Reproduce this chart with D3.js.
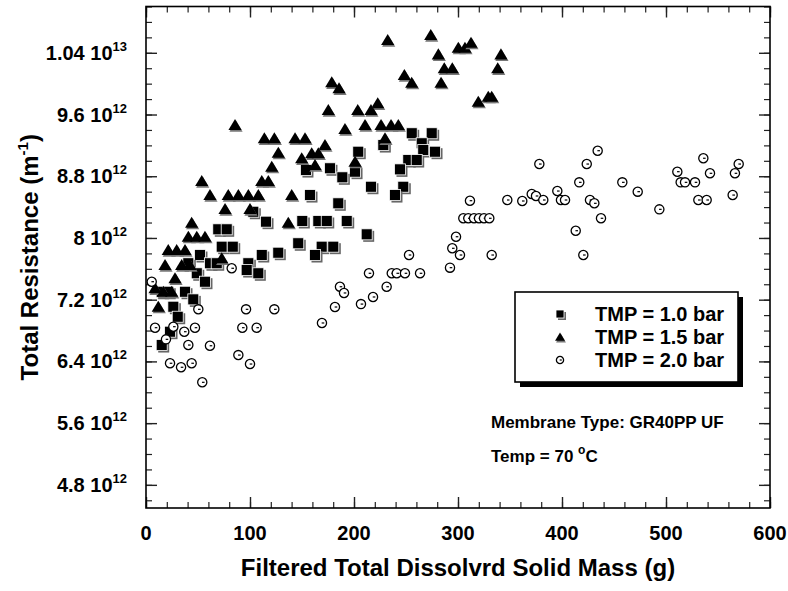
<!DOCTYPE html>
<html>
<head>
<meta charset="utf-8">
<script src="https://cdn.jsdelivr.net/npm/d3@7"></script>
<style>
  body { margin: 0; background: #fff; }
  svg { font-family: 'Liberation Sans', Arial, Helvetica, sans-serif; font-weight: bold; }
</style>
</head>
<body>
<svg id="chart" width="788" height="591"></svg>
<script>
// resistance values are in units of 1e12 m^-1, mass in g
const tmp10 = [
  [103.2, 8.340], [115.4, 8.211], [150.3, 8.220], [69.5, 8.112], [77.6, 8.112],
  [72.8, 7.887], [83.4, 7.887], [146.4, 7.931], [51.9, 7.779], [111.3, 7.779],
  [127.2, 7.809], [40.7, 7.672], [61.5, 7.672], [68.0, 7.672], [98.4, 7.672],
  [48.8, 7.542], [96.8, 7.584], [108.0, 7.542], [56.7, 7.433], [15.1, 7.303],
  [21.4, 7.303], [37.5, 7.303], [45.5, 7.204], [26.3, 7.109], [30.5, 6.979],
  [23.1, 6.785], [15.1, 6.612], [204.1, 9.118], [228.2, 9.204], [255.5, 9.357],
  [274.7, 9.357], [265.1, 9.227], [266.6, 9.140], [277.9, 9.118], [252.2, 9.010],
  [260.3, 9.010], [244.2, 8.889], [176.9, 8.903], [201.0, 8.859], [188.8, 8.786],
  [216.3, 8.664], [247.4, 8.664], [239.4, 8.556], [157.7, 8.556], [184.9, 8.449],
  [165.7, 8.220], [173.8, 8.220], [193.0, 8.220], [212.2, 8.047], [168.9, 7.887],
  [180.1, 7.887], [162.5, 7.779], [153.8, 8.880]
]

const tmp15 = [
  [232.4, 10.565], [273.8, 10.630], [300.3, 10.466], [306.7, 10.466], [312.5, 10.531],
  [341.3, 10.380], [281.1, 10.380], [286.8, 10.199], [294.5, 10.199], [338.2, 10.199],
  [248.4, 10.112], [255.5, 10.013], [283.7, 10.013], [178.6, 10.018], [185.6, 9.940],
  [319.5, 9.766], [329.1, 9.831], [332.4, 9.831], [222.8, 9.746], [175.3, 9.658],
  [203.6, 9.658], [216.3, 9.658], [191.3, 9.412], [210.6, 9.464], [226.0, 9.464],
  [235.6, 9.464], [242.6, 9.464], [143.3, 9.292], [152.9, 9.292], [172.1, 9.204],
  [229.8, 9.292], [85.6, 9.464], [113.8, 9.292], [123.4, 9.292], [127.2, 9.105],
  [120.9, 8.924], [159.3, 9.098], [165.7, 9.098], [149.7, 9.033], [162.5, 8.945],
  [201.0, 8.988], [53.6, 8.738], [111.3, 8.738], [117.6, 8.738], [61.5, 8.556],
  [79.1, 8.556], [88.8, 8.556], [98.4, 8.556], [108.0, 8.556], [140.1, 8.556],
  [76.0, 8.375], [100.0, 8.375], [43.9, 8.198], [136.8, 8.198], [40.7, 8.016],
  [48.8, 8.016], [56.7, 8.016], [21.4, 7.843], [29.5, 7.843], [37.5, 7.843],
  [18.3, 7.649], [34.3, 7.649], [42.3, 7.649], [72.8, 7.737], [27.9, 7.477],
  [8.7, 7.348], [16.6, 7.303], [24.7, 7.303], [11.8, 7.109]
]

const tmp20 = [
  [82.4, 7.607], [5.5, 7.433], [50.3, 7.075], [96.2, 7.075], [123.4, 7.075],
  [8.7, 6.837], [26.3, 6.850], [36.8, 6.785], [47.1, 6.837], [92.6, 6.837],
  [106.4, 6.837], [19.2, 6.686], [40.7, 6.612], [61.5, 6.603], [88.8, 6.482],
  [100.0, 6.366], [23.1, 6.376], [33.7, 6.324], [43.9, 6.376], [54.1, 6.129],
  [311.5, 8.483], [347.4, 8.492], [305.1, 8.255], [309.9, 8.255], [315.4, 8.255],
  [320.2, 8.255], [325.0, 8.255], [330.1, 8.255], [298.1, 8.016], [294.5, 7.866],
  [301.9, 7.779], [332.4, 7.779], [252.9, 7.779], [292.3, 7.615], [214.4, 7.542],
  [236.3, 7.542], [241.1, 7.542], [249.0, 7.542], [263.5, 7.542], [186.5, 7.368],
  [231.4, 7.368], [434.3, 9.131], [378.2, 8.958], [423.8, 8.958], [535.9, 9.033],
  [569.9, 8.958], [510.9, 8.859], [542.3, 8.838], [566.3, 8.838], [416.6, 8.721],
  [458.0, 8.721], [514.1, 8.721], [518.3, 8.721], [527.9, 8.721], [472.8, 8.600],
  [395.5, 8.608], [370.9, 8.569], [375.0, 8.544], [564.1, 8.556], [361.8, 8.479],
  [382.0, 8.492], [399.0, 8.492], [402.9, 8.492], [426.9, 8.492], [431.1, 8.449],
  [531.1, 8.492], [539.1, 8.492], [493.6, 8.371], [437.5, 8.255], [413.2, 8.094],
  [420.5, 7.779], [190.4, 7.287], [181.7, 7.105], [169.2, 6.898], [206.7, 7.143],
  [218.3, 7.235]
]

const xTicks = [0, 100, 200, 300, 400, 500, 600]
const yTicks = [4.8, 5.6, 6.4, 7.2, 8, 8.8, 9.6, 10.4]
const yTickMantissa = ['4.8', '5.6', '6.4', '7.2', '8', '8.8', '9.6', '1.04']
const yTickExponent = ['12', '12', '12', '12', '12', '12', '12', '13']
const legendLabels = ['TMP = 1.0 bar', 'TMP = 1.5 bar', 'TMP = 2.0 bar']

const plot = { left: 146, right: 770, top: 6.5, bottom: 508 }

const x = d3.scaleLinear().domain([0, 600]).range([plot.left, plot.right])
const y = d3.scaleLinear().domain([4.5, 11]).range([plot.bottom, plot.top])

const svg = d3.select('#chart')

// ---- ticks on all four sides, pointing inward
const xMinor = d3.range(0, 601, 20)
const yMinor = d3.range(4.6, 11.001, 0.2)

const tickGroups = [
  [d3.axisLeft(y), `translate(${plot.left},0)`, yMinor, yTicks],
  [d3.axisRight(y), `translate(${plot.right},0)`, yMinor, yTicks],
  [d3.axisTop(x), `translate(0,${plot.top})`, xMinor, xTicks],
  [d3.axisBottom(x), `translate(0,${plot.bottom})`, xMinor, xTicks]
]

tickGroups.forEach(([axis, transform, minor, major]) => {
  const gMinor = svg.append('g').attr('transform', transform)
    .call(axis.tickValues(minor).tickSize(-6).tickFormat(''))
  gMinor.select('.domain').remove()
  gMinor.selectAll('line').attr('stroke', '#222').attr('stroke-width', 1.2)
  const gMajor = svg.append('g').attr('transform', transform)
    .call(axis.tickValues(major).tickSize(-11).tickFormat(''))
  gMajor.select('.domain').remove()
  gMajor.selectAll('line').attr('stroke', '#222').attr('stroke-width', 1.4)
})

svg.append('rect')
  .attr('x', plot.left).attr('y', plot.top)
  .attr('width', plot.right - plot.left).attr('height', plot.bottom - plot.top)
  .attr('fill', 'none').attr('stroke', '#000').attr('stroke-width', 1.6)

// ---- tick labels
svg.append('g').selectAll('text')
  .data(xTicks)
  .enter().append('text')
  .attr('x', d => x(d))
  .attr('y', 540)
  .attr('text-anchor', 'middle')
  .attr('font-size', 20)
  .text(d => d)

const yLab = svg.append('g').selectAll('text')
  .data(yTicks)
  .enter().append('text')
  .attr('x', 127)
  .attr('y', d => y(d) + 7)
  .attr('text-anchor', 'end')
  .attr('font-size', 20)
yLab.append('tspan').text((d, i) => yTickMantissa[i] + ' 10')
yLab.append('tspan').attr('dy', -9).attr('font-size', 13).text((d, i) => yTickExponent[i])

// ---- axis titles
svg.append('text')
  .attr('x', (plot.left + plot.right) / 2)
  .attr('y', 576)
  .attr('text-anchor', 'middle')
  .attr('font-size', 24)
  .text('Filtered Total Dissolvrd Solid Mass (g)')

const yTitle = svg.append('text')
  .attr('transform', `translate(38,${(plot.top + plot.bottom) / 2}) rotate(-90)`)
  .attr('text-anchor', 'middle')
  .attr('font-size', 24)
yTitle.append('tspan').text('Total Resistance (m')
yTitle.append('tspan').attr('dy', -10).attr('font-size', 15).text('-1')
yTitle.append('tspan').attr('dy', 10).text(')')

// ---- markers
const drawSquare = (g, s) => {
  g.append('rect').attr('x', -s / 2 + 2).attr('y', -s / 2 + 2).attr('width', s).attr('height', s).attr('fill', '#666')
  g.append('rect').attr('x', -s / 2).attr('y', -s / 2).attr('width', s).attr('height', s)
    .attr('fill', '#000').attr('stroke', '#fff').attr('stroke-width', 0.8)
}
const drawTriangle = (g, s) => {
  const path = `M0,${-s * 0.5} L${s * 0.55},${s * 0.42} L${-s * 0.55},${s * 0.42} Z`
  g.append('path').attr('d', path).attr('transform', 'translate(1,1.6)').attr('fill', '#777')
  g.append('path').attr('d', path).attr('fill', '#000')
}
const drawCircle = (g, r) => {
  g.append('circle').attr('r', r).attr('fill', '#fff').attr('stroke', '#000').attr('stroke-width', 1.3)
  g.append('line').attr('x1', -0.3).attr('x2', r * 0.5).attr('stroke', '#000').attr('stroke-width', 1.2)
}

const series = [
  { data: tmp10, draw: g => drawSquare(g, 11), legend: g => drawSquare(g, 8) },
  { data: tmp15, draw: g => drawTriangle(g, 12), legend: g => drawTriangle(g, 9) },
  { data: tmp20, draw: g => drawCircle(g, 4.6), legend: g => drawCircle(g, 3.6) }
]

series.forEach(({ data, draw }) => {
  svg.append('g').selectAll('g')
    .data(data)
    .enter().append('g')
    .attr('transform', d => `translate(${x(d[0])},${y(d[1])})`)
    .each(function () { draw(d3.select(this)) })
})

// ---- legend
const legend = svg.append('g').attr('transform', 'translate(515,292)')
legend.append('rect').attr('x', 5).attr('y', 5).attr('width', 223).attr('height', 90).attr('fill', '#000')
legend.append('rect').attr('width', 223).attr('height', 90).attr('fill', '#fff')
  .attr('stroke', '#000').attr('stroke-width', 1.6)

legendLabels.forEach((label, i) => {
  const row = legend.append('g').attr('transform', `translate(0,${22 + i * 23})`)
  series[i].legend(row.append('g').attr('transform', 'translate(45,0)'))
  row.append('text').attr('x', 80).attr('y', 7).attr('font-size', 20).text(label)
})

// ---- annotations
svg.append('text')
  .attr('x', 491).attr('y', 428)
  .attr('font-size', 17)
  .text('Membrane Type: GR40PP UF')

const temp = svg.append('text').attr('x', 491).attr('y', 462).attr('font-size', 17)
temp.append('tspan').text('Temp = 70 ')
temp.append('tspan').attr('dy', -8).attr('font-size', 12).text('o')
temp.append('tspan').attr('dy', 8).text('C')
</script>
</body>
</html>
